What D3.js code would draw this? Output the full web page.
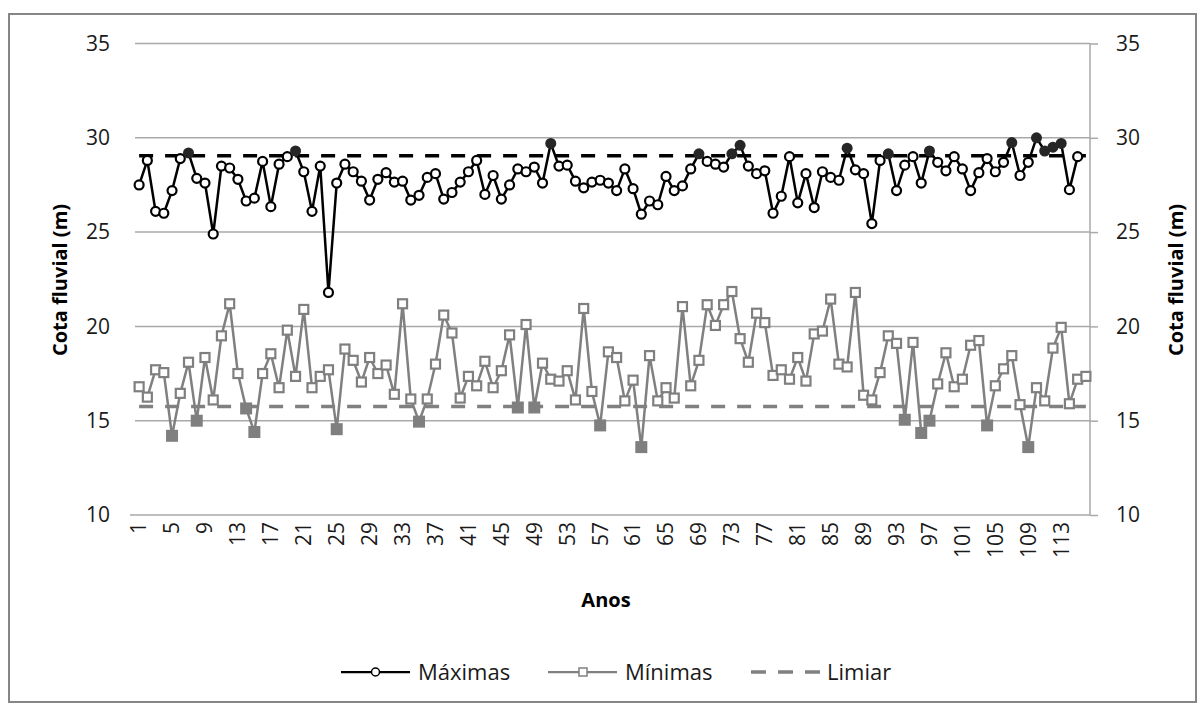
<!DOCTYPE html>
<html lang="pt">
<head>
<meta charset="utf-8">
<script src="https://d3js.org/d3.v7.min.js"></script>
<style type="text/css">

body {
	margin: 0;
	background-color: #ffffff;
	font-family: "Open Sans", sans-serif;
}

.tick text {
	font-size: 21px;
	fill: #1a1a1a;
}

.title {
	font-size: 20px;
	font-weight: bold;
	fill: #000;
}

.legend text {
	font-size: 22px;
	fill: #1a1a1a;
}

</style>
</head>
<body>
<script type="text/javascript">

// anos 1..116
var anos = d3.range(1, 117);

// cotas maximas anuais (m)
var maximas = [27.5, 28.8, 26.1, 26.0, 27.2, 28.9, 29.2, 27.85, 27.6, 24.9,
  28.5, 28.4, 27.8, 26.65, 26.8, 28.75, 26.35, 28.6, 29.0, 29.3,
  28.2, 26.1, 28.5, 21.8, 27.6, 28.6, 28.2, 27.7, 26.7, 27.8,
  28.15, 27.65, 27.7, 26.7, 26.95, 27.9, 28.1, 26.75, 27.1, 27.65,
  28.2, 28.8, 27.0, 28.0, 26.75, 27.5, 28.35, 28.2, 28.45, 27.6,
  29.7, 28.5, 28.55, 27.7, 27.35, 27.65, 27.75, 27.6, 27.2, 28.35,
  27.3, 25.95, 26.65, 26.45, 27.95, 27.2, 27.45, 28.35, 29.15, 28.75,
  28.6, 28.45, 29.15, 29.6, 28.5, 28.1, 28.25, 26.0, 26.9, 29.0,
  26.55, 28.1, 26.3, 28.2, 27.9, 27.75, 29.45, 28.3, 28.1, 25.45,
  28.8, 29.15, 27.2, 28.55, 29.0, 27.6, 29.3, 28.7, 28.25, 29.0,
  28.35, 27.2, 28.15, 28.9, 28.2, 28.7, 29.75, 28.0, 28.7, 30.0,
  29.3, 29.5, 29.7, 27.25, 29.0];

// cotas minimas anuais (m)
var minimas = [16.8, 16.25, 17.7, 17.55, 14.2, 16.45, 18.1, 15.0, 18.35, 16.1,
  19.5, 21.2, 17.5, 15.65, 14.4, 17.5, 18.55, 16.75, 19.8, 17.35,
  20.9, 16.75, 17.35, 17.7, 14.55, 18.8, 18.2, 17.05, 18.35, 17.5,
  17.95, 16.4, 21.2, 16.15, 14.95, 16.15, 18.0, 20.6, 19.65, 16.2,
  17.35, 16.85, 18.15, 16.75, 17.65, 19.55, 15.7, 20.1, 15.7, 18.05,
  17.2, 17.1, 17.65, 16.1, 20.95, 16.55, 14.75, 18.65, 18.35, 16.05,
  17.15, 13.6, 18.45, 16.05, 16.75, 16.2, 21.05, 16.85, 18.2, 21.15,
  20.05, 21.15, 21.85, 19.35, 18.1, 20.7, 20.2, 17.4, 17.7, 17.2,
  18.35, 17.1, 19.6, 19.75, 21.45, 18.0, 17.85, 21.8, 16.35, 16.1,
  17.55, 19.5, 19.1, 15.05, 19.15, 14.35, 15.0, 16.95, 18.6, 16.8,
  17.2, 19.0, 19.25, 14.75, 16.85, 17.75, 18.45, 15.85, 13.6, 16.75,
  16.05, 18.85, 19.95, 15.9, 17.2, 17.35];

// limiares
var limiarMax = 29.05;
var limiarMin = 15.75;

var yTicks = [10, 15, 20, 25, 30, 35];
var xTicks = anos.filter(function(d) { return (d - 1) % 4 == 0; });

var width = 1202;
var height = 704;

var svg = d3.select("body")
  .append("svg")
  .attr("width", width)
  .attr("height", height);

// moldura do grafico
svg.append("rect")
  .attr("x", 9)
  .attr("y", 14)
  .attr("width", 1187)
  .attr("height", 688)
  .style("fill", "none")
  .style("stroke", "#868686")
  .style("stroke-width", 2);

var pLeft = 135, pRight = 1090, pTop = 43.5, pBottom = 515;

var x = d3.scaleBand()
  .domain(anos)
  .range([pLeft, pRight]);

var cx = function(i) { return x(anos[i]) + x.bandwidth() / 2; };

var y = d3.scaleLinear()
  .domain([10, 35])
  .range([pBottom, pTop]);

// grelha horizontal
svg.append("g")
  .selectAll("line")
  .data(yTicks)
  .enter()
  .append("line")
  .attr("x1", function(d) { return d == 10 ? pLeft - 5 : pLeft; })
  .attr("x2", pRight)
  .attr("y1", function(d) { return y(d); })
  .attr("y2", function(d) { return y(d); })
  .style("stroke", "#a9a9a9")
  .style("stroke-width", 1.5);

// eixo esquerdo (so texto)
var yAxisL = d3.axisLeft(y).tickValues(yTicks).tickSize(0).tickPadding(25);
svg.append("g")
  .attr("transform", "translate(" + pLeft + ",0)")
  .call(yAxisL)
  .call(function(g) { g.select(".domain").remove(); })
  .selectAll("text")
  .style("font-family", "Open Sans");

// eixo direito
var yAxisR = d3.axisRight(y).tickValues(yTicks).tickSize(8).tickPadding(18);
var gR = svg.append("g")
  .attr("transform", "translate(" + pRight + ",0)")
  .call(yAxisR);
gR.select(".domain").style("stroke", "#a9a9a9").style("stroke-width", 1.5)
  .attr("d", "M0," + pTop + "V" + pBottom);
gR.selectAll("line").style("stroke", "#a9a9a9").style("stroke-width", 1.5);
gR.selectAll("text").style("font-family", "Open Sans");

// eixo x
var xAxis = d3.axisBottom(x).tickValues(xTicks).tickSize(0).tickPadding(0);
var gX = svg.append("g")
  .attr("transform", "translate(0," + pBottom + ")")
  .call(xAxis);
gX.select(".domain").remove();
gX.selectAll("text")
  .style("font-family", "Open Sans")
  .attr("transform", "rotate(-90)")
  .attr("text-anchor", "end")
  .attr("dy", "0.35em")
  .attr("x", -7)
  .attr("y", 0);

// titulos dos eixos
svg.append("text")
  .attr("class", "title")
  .attr("x", 606)
  .attr("y", 600)
  .attr("text-anchor", "middle")
  .attr("dy", "0.35em")
  .text("Anos");

svg.append("text")
  .attr("class", "title")
  .attr("transform", "translate(60,280) rotate(-90)")
  .attr("text-anchor", "middle")
  .attr("dy", "0.35em")
  .text("Cota fluvial (m)");

svg.append("text")
  .attr("class", "title")
  .attr("transform", "translate(1176,280) rotate(-90)")
  .attr("text-anchor", "middle")
  .attr("dy", "0.35em")
  .text("Cota fluvial (m)");

// limiares (linha tracejada ao longo de todas as categorias)
var limLine = function(v) {
  return d3.line()
    .x(function(d, i) { return cx(i); })
    .y(function() { return y(v); })(anos);
};

svg.append("path")
  .attr("d", limLine(limiarMin))
  .style("fill", "none")
  .style("stroke", "#808080")
  .style("stroke-width", 3.5)
  .style("stroke-dasharray", "14,12");

svg.append("path")
  .attr("d", limLine(limiarMax))
  .style("fill", "none")
  .style("stroke", "#000")
  .style("stroke-width", 3.5)
  .style("stroke-dasharray", "14,12");

// serie minimas
var serie = d3.line()
  .x(function(d, i) { return cx(i); })
  .y(function(d) { return y(d); });

svg.append("path")
  .attr("d", serie(minimas))
  .style("fill", "none")
  .style("stroke", "#808080")
  .style("stroke-width", 2.5);

svg.append("g")
  .selectAll("rect")
  .data(minimas)
  .enter()
  .append("rect")
  .attr("x", function(d, i) { return cx(i) - (d < limiarMin ? 6 : 4.5); })
  .attr("y", function(d) { return y(d) - (d < limiarMin ? 6 : 4.5); })
  .attr("width", function(d) { return d < limiarMin ? 12 : 9; })
  .attr("height", function(d) { return d < limiarMin ? 12 : 9; })
  .style("fill", function(d) { return d < limiarMin ? "#7f7f7f" : "#fff"; })
  .style("stroke", "#7f7f7f")
  .style("stroke-width", function(d) { return d < limiarMin ? 0 : 2.2; });

// serie maximas
svg.append("path")
  .attr("d", serie(maximas))
  .style("fill", "none")
  .style("stroke", "#000")
  .style("stroke-width", 2.5);

svg.append("g")
  .selectAll("circle")
  .data(maximas)
  .enter()
  .append("circle")
  .attr("cx", function(d, i) { return cx(i); })
  .attr("cy", function(d) { return y(d); })
  .attr("r", function(d) { return d > limiarMax ? 5.5 : 4.5; })
  .style("fill", function(d) { return d > limiarMax ? "#262626" : "#fff"; })
  .style("stroke", function(d) { return d > limiarMax ? "none" : "#000"; })
  .style("stroke-width", 2.2);

// legenda
var ly = 672;
var legend = svg.append("g").attr("class", "legend");

legend.append("line")
  .attr("x1", 341).attr("x2", 410).attr("y1", ly).attr("y2", ly)
  .style("stroke", "#000").style("stroke-width", 2.25);
legend.append("circle")
  .attr("cx", 375.5).attr("cy", ly).attr("r", 4)
  .style("fill", "#fff").style("stroke", "#000").style("stroke-width", 1.5);
legend.append("text")
  .attr("x", 418).attr("y", ly).attr("dy", "0.35em")
  .text("Máximas");

legend.append("line")
  .attr("x1", 548).attr("x2", 617).attr("y1", ly).attr("y2", ly)
  .style("stroke", "#808080").style("stroke-width", 2.25);
legend.append("rect")
  .attr("x", 579).attr("y", ly - 4).attr("width", 8).attr("height", 8)
  .style("fill", "#fff").style("stroke", "#808080").style("stroke-width", 1.5);
legend.append("text")
  .attr("x", 625).attr("y", ly).attr("dy", "0.35em")
  .text("Mínimas");

legend.append("line")
  .attr("x1", 751).attr("x2", 820).attr("y1", ly).attr("y2", ly)
  .style("stroke", "#808080").style("stroke-width", 3.5)
  .style("stroke-dasharray", "15,12");
legend.append("text")
  .attr("x", 827).attr("y", ly).attr("dy", "0.35em")
  .text("Limiar");

</script>
</body>
</html>
